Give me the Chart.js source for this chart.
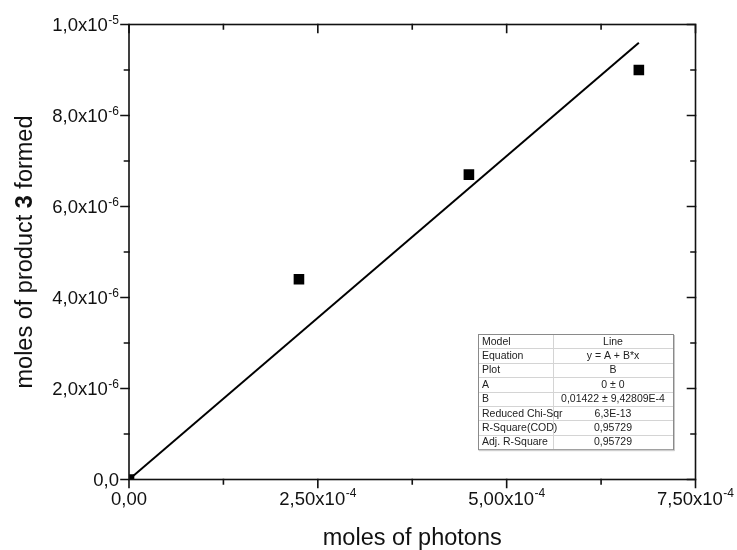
<!DOCTYPE html>
<html>
<head>
<meta charset="utf-8">
<script src="https://cdn.jsdelivr.net/npm/chart.js@4/dist/chart.umd.min.js"></script>
<style>
  html, body { margin: 0; padding: 0; background: #fff; }
  #wrap { width: 737px; height: 550px; position: relative; }
</style>
</head>
<body>
<div id="wrap"><canvas id="c" width="737" height="550"></canvas></div>
<script>
// Measured data: moles of photons vs. moles of product 3
const photons = [0, 2.25e-4, 4.5e-4, 6.75e-4];
const product = [0, 4.4e-6, 6.7e-6, 9.0e-6];

// Linear fit through the origin (y = A + B*x, A fixed at 0)
const fitA = 0;
const fitB = 0.01422;
const fitX = [0, 6.75e-4];

// Axis ticks
const xMajor = [0, 2.5e-4, 5.0e-4, 7.5e-4];
const xMinor = [1.25e-4, 3.75e-4, 6.25e-4];
const xTickBase = ["0,00", "2,50x10", "5,00x10", "7,50x10"];
const xTickExp  = ["", "-4", "-4", "-4"];

const yMajor = [0, 2e-6, 4e-6, 6e-6, 8e-6, 1e-5];
const yMinor = [1e-6, 3e-6, 5e-6, 7e-6, 9e-6];
const yTickBase = ["0,0", "2,0x10", "4,0x10", "6,0x10", "8,0x10", "1,0x10"];
const yTickExp  = ["", "-6", "-6", "-6", "-6", "-5"];

// Fit report table
const tableKeys = ["Model", "Equation", "Plot", "A", "B", "Reduced Chi-Sqr", "R-Square(COD)", "Adj. R-Square"];
const tableVals = ["Line", "y = A + B*x", "B", "0 \u00b1 0", "0,01422 \u00b1 9,42809E-4", "6,3E-13", "0,95729", "0,95729"];

const FONT = "'Liberation Sans', Arial, Helvetica, sans-serif";

const framePlugin = {
  id: 'originFrame',
  afterDatasetsDraw(chart) {
    const ctx = chart.ctx;
    const a = chart.chartArea;
    const xs = chart.scales.x, ys = chart.scales.y;
    ctx.save();
    ctx.strokeStyle = '#111';
    ctx.lineWidth = 1.6;
    ctx.lineCap = 'square';
    ctx.strokeRect(a.left, a.top, a.right - a.left, a.bottom - a.top);

    const majorLen = 8, minorLen = 4.5;
    ctx.beginPath();
    // bottom (outward) and top (inward) ticks
    xMajor.forEach(v => {
      const px = xs.getPixelForValue(v);
      ctx.moveTo(px, a.bottom); ctx.lineTo(px, a.bottom + majorLen);
      ctx.moveTo(px, a.top); ctx.lineTo(px, a.top + majorLen);
    });
    xMinor.forEach(v => {
      const px = xs.getPixelForValue(v);
      ctx.moveTo(px, a.bottom); ctx.lineTo(px, a.bottom + minorLen);
      ctx.moveTo(px, a.top); ctx.lineTo(px, a.top + minorLen);
    });
    // left (outward) and right (inward) ticks
    yMajor.forEach(v => {
      const py = ys.getPixelForValue(v);
      ctx.moveTo(a.left, py); ctx.lineTo(a.left - majorLen, py);
      ctx.moveTo(a.right, py); ctx.lineTo(a.right - majorLen, py);
    });
    yMinor.forEach(v => {
      const py = ys.getPixelForValue(v);
      ctx.moveTo(a.left, py); ctx.lineTo(a.left - minorLen, py);
      ctx.moveTo(a.right, py); ctx.lineTo(a.right - minorLen, py);
    });
    ctx.stroke();
    ctx.restore();
  },
  afterDraw(chart) {
    const ctx = chart.ctx;
    const a = chart.chartArea;
    const xs = chart.scales.x, ys = chart.scales.y;
    const baseFont = '18.5px ' + FONT;
    const supFont = '12px ' + FONT;
    ctx.save();
    ctx.fillStyle = '#111';

    // label with optional superscript exponent
    function labelWidth(base, exp) {
      ctx.font = baseFont;
      let w = ctx.measureText(base).width;
      if (exp) { ctx.font = supFont; w += ctx.measureText(exp).width + 0.5; }
      return w;
    }
    function drawLabel(base, exp, x, baseline) {
      ctx.textAlign = 'left';
      ctx.textBaseline = 'alphabetic';
      ctx.font = baseFont;
      ctx.fillText(base, x, baseline);
      if (exp) {
        const w = ctx.measureText(base).width;
        ctx.font = supFont;
        ctx.fillText(exp, x + w + 0.5, baseline - 7.5);
      }
    }

    // x tick labels
    xMajor.forEach((v, i) => {
      const px = xs.getPixelForValue(v);
      const w = labelWidth(xTickBase[i], xTickExp[i]);
      drawLabel(xTickBase[i], xTickExp[i], px - w / 2, a.bottom + 25);
    });
    // y tick labels
    yMajor.forEach((v, i) => {
      const py = ys.getPixelForValue(v);
      const w = labelWidth(yTickBase[i], yTickExp[i]);
      drawLabel(yTickBase[i], yTickExp[i], a.left - 10 - w, py + 6.6);
    });

    // x axis title
    ctx.font = '23.5px ' + FONT;
    ctx.textAlign = 'center';
    ctx.textBaseline = 'alphabetic';
    ctx.fillText('moles of photons', (a.left + a.right) / 2, 545);

    // y axis title with bold compound number
    const parts = [['moles of product ', 'normal'], ['3', 'bold'], [' formed', 'normal']];
    let total = 0;
    parts.forEach(p => { ctx.font = p[1] + ' 23.5px ' + FONT; total += ctx.measureText(p[0]).width; });
    ctx.save();
    ctx.translate(32, (a.top + a.bottom) / 2);
    ctx.rotate(-Math.PI / 2);
    ctx.textAlign = 'left';
    let cx = -total / 2;
    parts.forEach(p => {
      ctx.font = p[1] + ' 23.5px ' + FONT;
      ctx.fillText(p[0], cx, 0);
      cx += ctx.measureText(p[0]).width;
    });
    ctx.restore();

    // fit report table
    const tx = 478, ty = 334, tw = 195, rowH = 14.4, col = 553;
    const th = rowH * tableKeys.length;
    ctx.fillStyle = '#fff';
    ctx.fillRect(tx, ty, tw, th);
    ctx.strokeStyle = '#d4d4d4';
    ctx.lineWidth = 1;
    ctx.beginPath();
    for (let r = 1; r < tableKeys.length; r++) {
      const yy = Math.round(ty + r * rowH) + 0.5;
      ctx.moveTo(tx, yy); ctx.lineTo(tx + tw, yy);
    }
    ctx.moveTo(col + 0.5, ty); ctx.lineTo(col + 0.5, ty + th);
    ctx.stroke();
    ctx.strokeStyle = '#8a8a8a';
    ctx.strokeRect(tx + 0.5, ty + 0.5, tw, th);
    ctx.strokeStyle = '#c8c8c8';
    ctx.beginPath();
    ctx.moveTo(tx + tw + 1.5, ty + 1); ctx.lineTo(tx + tw + 1.5, ty + th + 1.5);
    ctx.lineTo(tx + 1, ty + th + 1.5);
    ctx.stroke();

    ctx.font = '10.5px ' + FONT;
    ctx.fillStyle = '#222';
    ctx.textBaseline = 'middle';
    tableKeys.forEach((k, r) => {
      const yy = ty + r * rowH + rowH / 2 + 0.5;
      ctx.textAlign = 'left';
      ctx.fillText(k, tx + 4, yy);
      ctx.textAlign = 'center';
      ctx.fillText(tableVals[r], (col + tx + tw) / 2, yy);
    });
    ctx.restore();
  }
};

const pointData = photons.map((x, i) => ({ x: x, y: product[i] }));
const fitData = fitX.map(x => ({ x: x, y: fitA + fitB * x }));

new Chart(document.getElementById('c'), {
  type: 'scatter',
  data: {
    datasets: [
      {
        label: 'B',
        data: pointData,
        pointStyle: 'rect',
        pointRadius: 7.5,
        pointHoverRadius: 7.5,
        backgroundColor: '#000',
        borderColor: '#000',
        borderWidth: 0,
        clip: 0
      },
      {
        label: 'Linear Fit of B',
        type: 'line',
        data: fitData,
        borderColor: '#000',
        borderWidth: 2,
        pointRadius: 0,
        fill: false,
        tension: 0,
        clip: 0
      }
    ]
  },
  options: {
    responsive: false,
    animation: false,
    devicePixelRatio: 1,
    layout: { padding: { left: 129, top: 24.5, right: 41.5, bottom: 70.5 } },
    plugins: { legend: { display: false }, tooltip: { enabled: false } },
    scales: {
      x: { type: 'linear', min: 0, max: 7.5e-4, display: false },
      y: { type: 'linear', min: 0, max: 1e-5, display: false }
    }
  },
  plugins: [framePlugin]
});
</script>
</body>
</html>
